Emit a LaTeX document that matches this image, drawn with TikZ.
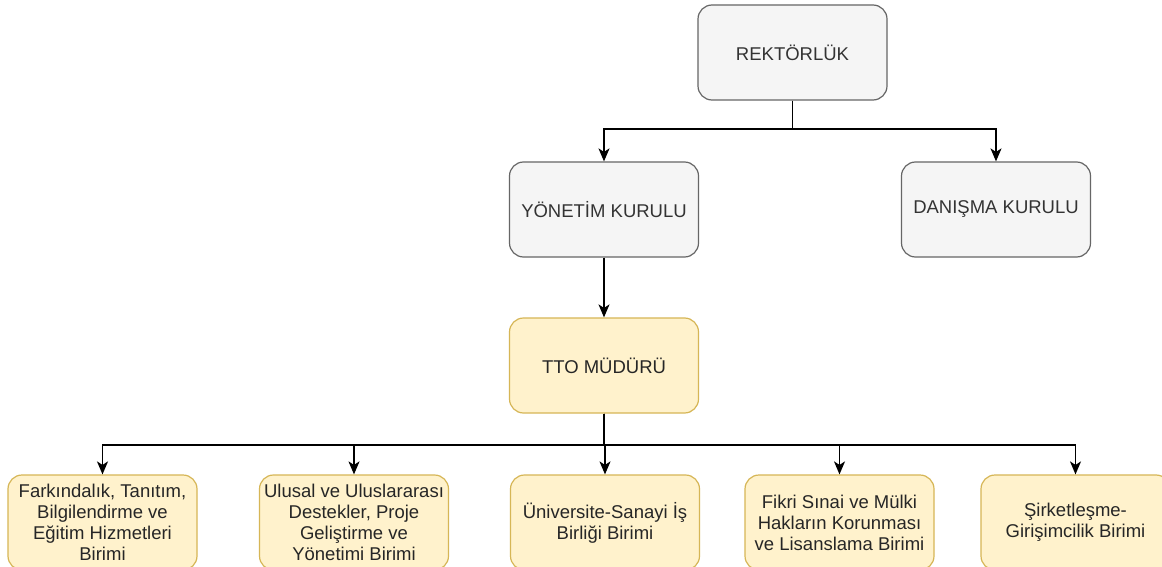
\documentclass[tikz,border=0pt]{standalone}
\usepackage{fontspec}
\setmainfont{Liberation Sans}
\usetikzlibrary{arrows.meta}
\definecolor{greyfill}{HTML}{F5F5F5}
\definecolor{greydraw}{HTML}{666666}
\definecolor{greytext}{HTML}{333333}
\definecolor{yelfill}{HTML}{FFF2CC}
\definecolor{yeldraw}{HTML}{D6B656}
\tikzset{
  box/.style={rectangle, rounded corners=14pt, minimum width=189pt, minimum height=95pt,
    inner sep=2pt, align=center, line width=1.2pt,
    font=\fontsize{18.5}{21}\selectfont},
  greybox/.style={box, fill=greyfill, draw=greydraw, text=greytext},
  yelbox/.style={box, fill=yelfill, draw=yeldraw, text=black!85},
  conn/.style={line width=1.5pt, draw=black},
  arr/.style={conn, -{Stealth[length=13pt,width=11pt,inset=3.5pt]}}
}
\begin{document}
\begin{tikzpicture}[x=1pt,y=-1pt]
\clip (0,0) rectangle (1162,567);
\fill[white] (0,0) rectangle (1162,567);
\node[greybox] (rek) at (792.5,52.5) {REKTÖRLÜK};
\node[greybox] (yon) at (604,209.5) {YÖNETİM KURULU};
\node[greybox] (dan) at (996,209.5) {DANIŞMA KURULU};
\node[yelbox] (tto) at (604,365.5) {TTO MÜDÜRÜ};
\node[yelbox] (b1) at (102.5,522.5) {Farkındalık, Tanıtım,\\Bilgilendirme ve\\Eğitim Hizmetleri\\Birimi};
\node[yelbox] (b2) at (354,522.5) {Ulusal ve Uluslararası\\Destekler, Proje\\Geliştirme ve\\Yönetimi Birimi};
\node[yelbox] (b3) at (605,522.5) {Üniversite-Sanayi İş\\Birliği Birimi};
\node[yelbox] (b4) at (839.5,522.5) {Fikri Sınai ve Mülki\\Hakların Korunması\\ve Lisanslama Birimi};
\node[yelbox] (b5) at (1075.5,522.5) {Şirketleşme-\\Girişimcilik Birimi};
\coordinate (topbus) at (0,129);
\coordinate (botbus) at (0,445);
\draw[arr] (rek.south) |- (topbus -| yon.north) -- (yon.north);
\draw[arr] (rek.south) |- (topbus -| dan.north) -- (dan.north);
\draw[arr] (yon.south) -- (tto.north);
\foreach \b in {b1,b2,b3,b4,b5}{
  \draw[arr] (tto.south) |- (botbus -| \b.north) -- (\b.north);
}
\end{tikzpicture}
\end{document}
